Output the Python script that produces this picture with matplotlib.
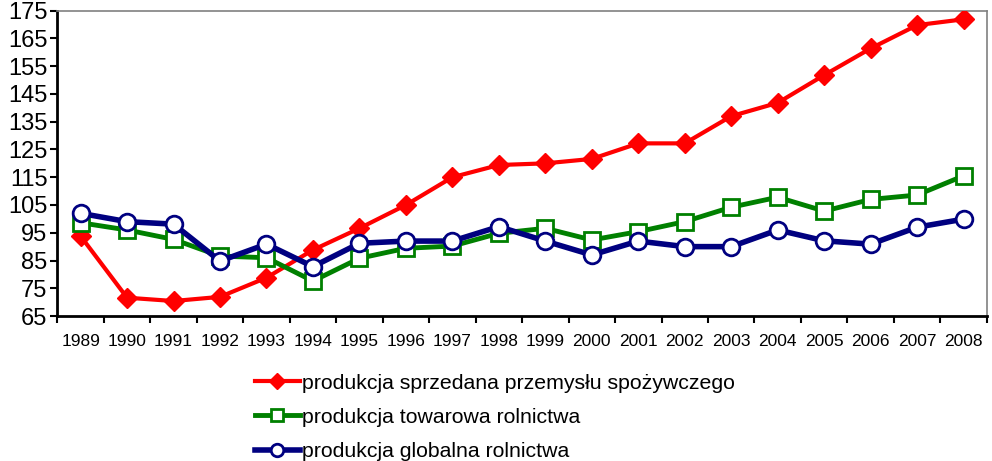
import numpy as np
import matplotlib.pyplot as plt
from matplotlib.lines import Line2D

plt.rcParams['font.family'] = ['Liberation Sans', 'DejaVu Sans']

years = [str(y) for y in range(1989, 2009)]
spozywczy = [93.8, 71.6, 70.4, 71.9, 78.8, 88.8, 96.6, 105.0, 115.0, 119.4,
             120.0, 121.6, 127.2, 127.2, 137.0, 141.8, 151.8, 161.4, 169.8, 171.9]
towarowa = [98.6, 96.0, 92.6, 86.6, 86.0, 77.6, 85.8, 89.4, 90.2, 94.8,
            96.6, 92.4, 95.4, 99.0, 104.2, 107.8, 102.8, 107.0, 108.6, 115.5]
globalna = [102.0, 99.0, 98.1, 84.8, 90.9, 82.8, 91.2, 92.0, 92.0, 97.2,
            92.0, 87.0, 92.0, 90.0, 90.0, 96.0, 92.1, 90.9, 97.0, 99.9]
labels = ['produkcja sprzedana przemysłu spożywczego',
          'produkcja towarowa rolnictwa',
          'produkcja globalna rolnictwa']

fig = plt.figure(figsize=(9.92, 4.61), dpi=100)
ax = fig.add_axes([0.0578, 0.3145, 0.937, 0.6623])

x = np.arange(len(years))
ax.plot(x, spozywczy, color='#ff0000', lw=3, marker='D', ms=10,
        mfc='#ff0000', mec='#ff0000', zorder=3)
ax.plot(x, towarowa, color='#008000', lw=3.5, marker='s', ms=12,
        mfc='white', mec='#008000', mew=2, zorder=4)
ax.plot(x, globalna, color='#000080', lw=4, marker='o', ms=12,
        mfc='white', mec='#000080', mew=2, zorder=5)

ax.set_xlim(-0.5, len(years) - 0.5)
ax.set_ylim(65, 175)
ax.set_yticks(np.arange(65, 176, 10))
ax.tick_params(axis='y', labelsize=17, length=5, width=1.5, direction='out', pad=2)
ax.set_xticks(x)
ax.set_xticklabels(years)
ax.set_xticks(np.arange(-0.5, len(years), 1), minor=True)
ax.tick_params(axis='x', which='major', length=0, labelsize=12.5, pad=13)
ax.tick_params(axis='x', which='minor', length=5, width=1.5, direction='out')

for s in ['left', 'bottom']:
    ax.spines[s].set_linewidth(2)
    ax.spines[s].set_color('black')
for s in ['top', 'right']:
    ax.spines[s].set_linewidth(1.2)
    ax.spines[s].set_color('#808080')

handles = [
    Line2D([], [], color='#ff0000', lw=3, marker='D', ms=8, mfc='#ff0000', mec='#ff0000'),
    Line2D([], [], color='#008000', lw=3.5, marker='s', ms=9, mfc='white', mec='#008000', mew=2),
    Line2D([], [], color='#000080', lw=4, marker='o', ms=9, mfc='white', mec='#000080', mew=2),
]
fig.legend(handles, labels, loc='upper left', bbox_to_anchor=(0.248, 0.208),
           frameon=False, fontsize=15.3, handlelength=2.15, handletextpad=0.08,
           labelspacing=0.72, borderaxespad=0)

fig.savefig('out.png', dpi=100)
